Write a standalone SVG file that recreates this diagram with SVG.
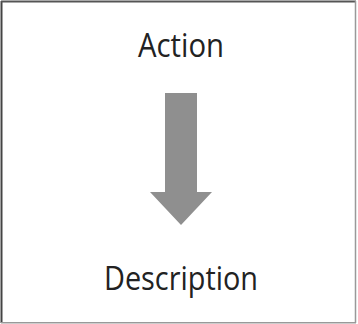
<svg xmlns="http://www.w3.org/2000/svg" width="358" height="324" viewBox="0 0 358 324">
<style>
.lbl{font-family:"Open Sans","Liberation Sans",sans-serif;font-size:32px;fill:#222;text-anchor:middle}
.arrow{fill:#8f8f8f}
</style>
<rect x="0" y="0" width="358" height="324" fill="#fff"/>
<g id="frame">
<line x1="1.5" y1="1" x2="1.5" y2="323" stroke="#444" stroke-width="2"/>
<line x1="1" y1="1.5" x2="356" y2="1.5" stroke="#555" stroke-width="2"/>
<line x1="355.5" y1="1" x2="355.5" y2="323" stroke="#999" stroke-width="1.5"/>
<line x1="1" y1="322.8" x2="356" y2="322.8" stroke="#999" stroke-width="1.5"/>
</g>
<g id="action"><text class="lbl" x="181" y="56.5" textLength="86" lengthAdjust="spacingAndGlyphs">Action</text></g>
<g id="description"><text class="lbl" x="181" y="290" textLength="154" lengthAdjust="spacingAndGlyphs">Description</text></g>
<g id="connectors">
<polygon class="arrow" points="165,93 197,93 197,192 212,192 181,225 150,192 165,192"/>
</g>
</svg>
